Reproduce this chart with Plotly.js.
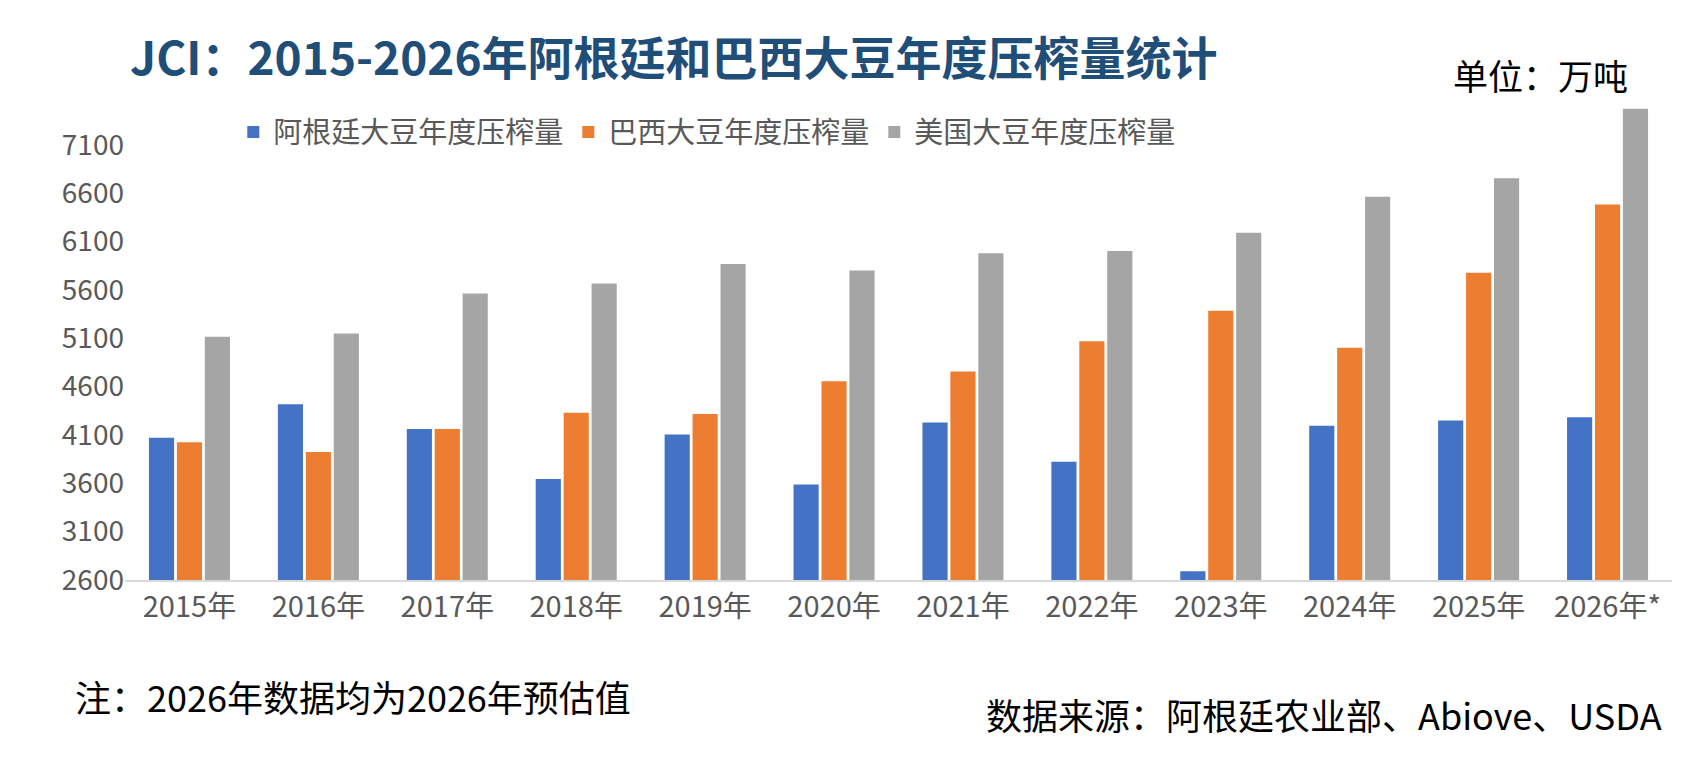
<!DOCTYPE html>
<html><head><meta charset="utf-8">
<script src="https://cdn.plot.ly/plotly-3.0.1.min.js"></script>
<style>body{margin:0;background:#fff}</style></head>
<body><div id="chart" style="width:1708px;height:758px"></div>
<script>
var years = ["2015年","2016年","2017年","2018年","2019年","2020年","2021年","2022年","2023年","2024年","2025年","2026年*"];
var argentina = [4070,4418,4160,3644,4104,3588,4227,3823,2690,4194,4250,4283];
var brazil = [4025,3924,4160,4328,4317,4654,4755,5069,5383,5002,5776,6483];
var usa = [5114,5148,5563,5664,5866,5799,5978,6000,6191,6562,6753,7471];
var yTicks = [2600,3100,3600,4100,4600,5100,5600,6100,6600,7100];

var font = "Noto Sans CJK SC";
var data = [
  {x: years, y: argentina, type: "bar", name: "阿根廷大豆年度压榨量", marker: {color: "#4472c4"}},
  {x: years, y: brazil, type: "bar", name: "巴西大豆年度压榨量", marker: {color: "#ed7d31"}},
  {x: years, y: usa, type: "bar", name: "美国大豆年度压榨量", marker: {color: "#a5a5a5"}}
];
var layout = {
  width: 1708, height: 758,
  margin: {l: 125, r: 36, t: 106, b: 178},
  font: {family: font, color: "#595959", size: 28},
  bargap: 0.35, bargroupgap: 0.1,
  showlegend: true,
  legend: {orientation: "h", x: 0.07, y: 0.945, xanchor: "left", yanchor: "middle", font: {size: 29, color: "#595959"}, traceorder: "normal", bgcolor: "rgba(0,0,0,0)"},
  xaxis: {showline: true, linecolor: "#d9d9d9", linewidth: 1.5, ticks: "", tickfont: {size: 29}},
  yaxis: {range: [2600, 7500], tickvals: yTicks, showgrid: false, zeroline: false, tickfont: {size: 28}, ticks: ""},
  annotations: [
    {text: "<b>JCI：2015-2026年阿根廷和巴西大豆年度压榨量统计</b>", xref: "paper", yref: "paper", x: 0, y: 1, xanchor: "left", yanchor: "bottom", showarrow: false, font: {size: 46, color: "#1f4e79", family: font}, xshift: 3, yshift: 16},
    {text: "单位：万吨", xref: "paper", yref: "paper", x: 1, y: 1, xanchor: "right", yanchor: "bottom", showarrow: false, font: {size: 35, color: "#000"}, xshift: -42, yshift: 4},
    {text: "注：2026年数据均为2026年预估值", xref: "paper", yref: "paper", x: 0, y: 0, xanchor: "left", yanchor: "top", showarrow: false, font: {size: 36, color: "#000"}, xshift: -52, yshift: -88},
    {text: "数据来源：阿根廷农业部、Abiove、USDA", xref: "paper", yref: "paper", x: 1, y: 0, xanchor: "right", yanchor: "top", showarrow: false, font: {size: 36, color: "#000"}, xshift: -8, yshift: -106}
  ],
  plot_bgcolor: "#fff", paper_bgcolor: "#fff"
};
Plotly.newPlot("chart", data, layout, {displayModeBar: false});
</script></body></html>
